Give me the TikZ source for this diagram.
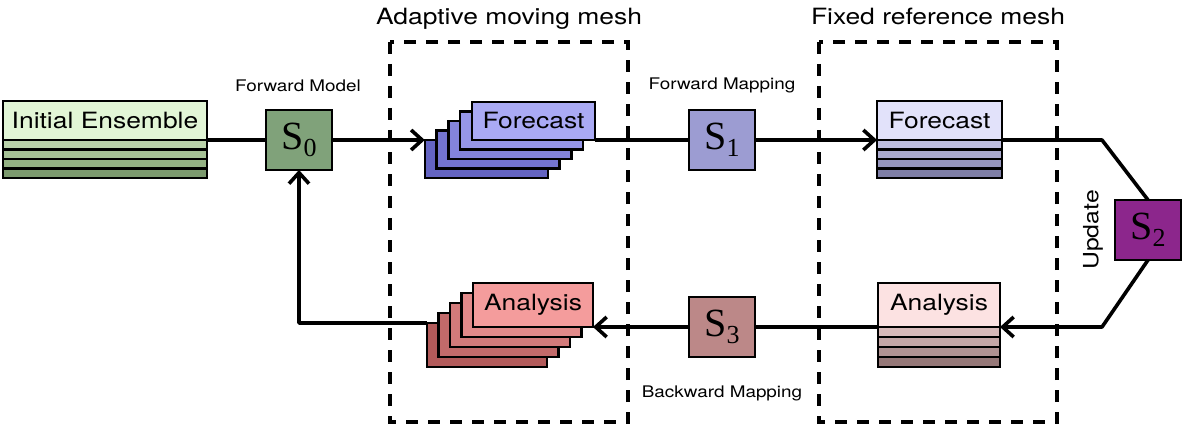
\documentclass[tikz,border=0pt]{standalone}
\usepackage{fontspec}
\setmainfont[FakeStretch=1.18]{TeX Gyre Heros}
\newfontfamily\serifS{Liberation Serif}
\usetikzlibrary{arrows.meta}

% ensemble colours
\definecolor{ensTop}{RGB}{226,246,214}
\definecolor{ensA}{RGB}{186,210,170}
\definecolor{ensB}{RGB}{166,194,150}
\definecolor{ensC}{RGB}{148,178,132}
\definecolor{ensD}{RGB}{124,154,110}
\definecolor{fcA}{RGB}{170,170,244}
\definecolor{fcB}{RGB}{150,150,232}
\definecolor{fcC}{RGB}{132,132,220}
\definecolor{fcD}{RGB}{116,116,208}
\definecolor{fcE}{RGB}{100,100,194}
\definecolor{anA}{RGB}{244,156,156}
\definecolor{anB}{RGB}{226,138,138}
\definecolor{anC}{RGB}{210,122,122}
\definecolor{anD}{RGB}{194,106,106}
\definecolor{anE}{RGB}{178,90,90}
\definecolor{frTop}{RGB}{226,226,250}
\definecolor{frA}{RGB}{190,190,222}
\definecolor{frB}{RGB}{170,170,206}
\definecolor{frC}{RGB}{150,150,190}
\definecolor{frD}{RGB}{126,126,166}
\definecolor{arTop}{RGB}{252,226,226}
\definecolor{arA}{RGB}{216,186,186}
\definecolor{arB}{RGB}{196,166,166}
\definecolor{arC}{RGB}{176,146,146}
\definecolor{arD}{RGB}{150,120,120}
% operator colours
\definecolor{sZero}{RGB}{128,162,122}
\definecolor{sOne}{RGB}{156,156,210}
\definecolor{sTwo}{RGB}{140,38,140}
\definecolor{sThree}{RGB}{188,136,136}

\newcommand\opname[1]{{\serifS S\raisebox{-7pt}{\fontsize{26}{26}\selectfont #1}}}

\begin{document}
\begin{tikzpicture}[x=1pt, y=-1pt,
        box/.style={draw, line width=2.4pt, inner sep=0pt, outer sep=0pt, anchor=north west},
        sbox/.style={box, minimum width=66, minimum height=60, font=\fontsize{40}{40}\selectfont},
        big/.style={font=\fontsize{22.4}{22.4}\selectfont},
        lbl/.style={font=\fontsize{16}{16}\selectfont},
        conn/.style={line width=3.6pt, line join=round},
        arr/.style={conn, -{Straight Barb[length=11pt, width=20pt]}},
        mesh/.style={line width=3.8pt, dash pattern=on 12pt off 10pt}]
    \useasboundingbox (0,0) rectangle (1185,441);

    % mesh frames
    \draw[mesh] (390,42) rectangle (628,422);
    \draw[mesh] (819,42) rectangle (1057,422);
    \node[big, anchor=base] (amm) at (509,25) {Adaptive moving mesh};
    \node[big, anchor=base] (frm) at (938,25) {Fixed reference mesh};

    % initial ensemble
    \node[box, big, fill=ensTop, minimum width=204, minimum height=39] (ie) at (3,101) {Initial Ensemble};
    \foreach \i/\c in {0/ensA,1/ensB,2/ensC,3/ensD}
        \draw[line width=2.2pt, fill=\c] (ie.south west) ++(0,\i*9.5) rectangle ++(204,9.5);

    % forecast stack
    \foreach \i/\c in {4/fcE,3/fcD,2/fcC,1/fcB}
        \node[box, fill=\c, minimum width=123, minimum height=38] (fc\i) at (472-\i*11.8, 102+\i*9.5) {};
    \node[box, big, fill=fcA, minimum width=123, minimum height=38] (fc0) at (472,102) {Forecast};

    % analysis stack
    \foreach \i/\c in {4/anE,3/anD,2/anC,1/anB}
        \node[box, fill=\c, minimum width=120, minimum height=44] (an\i) at (473-\i*11.5, 283+\i*10) {};
    \node[box, big, fill=anA, minimum width=120, minimum height=44] (an0) at (473,283) {Analysis};

    % forecast on reference mesh
    \node[box, big, fill=frTop, minimum width=125, minimum height=39] (fr) at (877,101) {Forecast};
    \foreach \i/\c in {0/frA,1/frB,2/frC,3/frD}
        \draw[line width=2.2pt, fill=\c] (fr.south west) ++(0,\i*9.5) rectangle ++(125,9.5);

    % analysis on reference mesh
    \node[box, big, fill=arTop, minimum width=122, minimum height=44] (ar) at (878,283) {Analysis};
    \foreach \i/\c in {0/arA,1/arB,2/arC,3/arD}
        \draw[line width=2.2pt, fill=\c] (ar.south west) ++(0,\i*10) rectangle ++(122,10);

    % operators
    \node[sbox, fill=sZero] (s0) at (266,110) {\opname{0}};
    \node[sbox, fill=sOne] (s1) at (689,110) {\opname{1}};
    \node[sbox, fill=sTwo] (s2) at (1115,200) {\opname{2}};
    \node[sbox, fill=sThree] (s3) at (689,297) {\opname{3}};

    \node[lbl] (fwm) at (298,86) {Forward Model};
    \node[lbl] (fmap) at (722,85) {Forward Mapping};
    \node[lbl] (bmap) at (722,393) {Backward Mapping};
    \node[font=\fontsize{21}{21}\selectfont, rotate=90] (upd) at (1093,230) {Update};

    % connectors
    \draw[conn] (ie.south east) -- (s0.west);
    \draw[arr] (s0.east) -- (fc4.north west);
    \draw[conn] (fc0.south east) -- (s1.west);
    \draw[arr] (s1.east) -- (fr.south west);
    \draw[conn] (fr.south east) -- ++(100,0) -- (s2.north);
    \draw[arr] (s2.south) -- ++(-46,67) -- (ar.south east);
    \draw[conn] (ar.south west) -- (s3.east);
    \draw[arr] (s3.west) -- (an0.south east);
    \draw[arr] (an4.north west) -| (s0.south);
\end{tikzpicture}
\end{document}
